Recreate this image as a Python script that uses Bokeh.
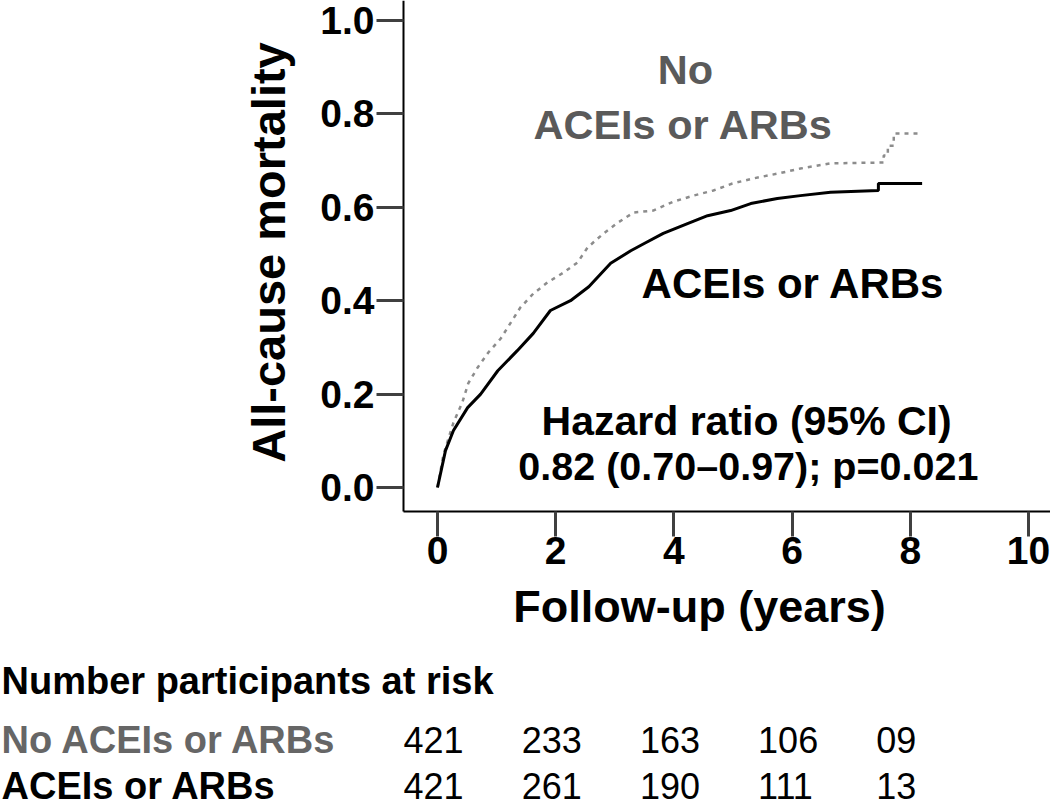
import math
from bokeh.plotting import figure
from bokeh.models import Range1d, FixedTicker, PrintfTickFormatter
from bokeh.core.properties import value
from bokeh.embed import file_html
from bokeh.resources import INLINE

# ---------------- data ----------------
ace_t = [0, 0.135, 0.27, 0.51, 0.73, 1.02, 1.35, 1.62, 1.91, 2.25, 2.56, 2.93,
         3.27, 3.49, 3.82, 4.23, 4.57, 4.96, 5.30, 5.75, 6.14, 6.65, 7.46, 7.46, 8.20]
ace_y = [0, 0.079, 0.122, 0.171, 0.20, 0.25, 0.293, 0.33, 0.379, 0.40, 0.43, 0.48,
         0.507, 0.522, 0.544, 0.565, 0.582, 0.593, 0.608, 0.619, 0.625, 0.632, 0.636, 0.651, 0.651]

noace_t = [0, 0.10, 0.27, 0.42, 0.52, 0.68, 0.86, 1.07, 1.24, 1.40, 1.62, 1.86, 2.13,
           2.37, 2.54, 2.81, 3.05, 3.32, 3.65, 3.99, 4.33, 4.67, 4.99, 5.35, 5.75, 6.14,
           6.65, 7.55, 7.55, 7.62, 7.62, 7.72, 7.72, 8.20]
noace_y = [0, 0.07, 0.139, 0.182, 0.223, 0.257, 0.289, 0.319, 0.353, 0.385, 0.415, 0.439,
           0.46, 0.482, 0.514, 0.544, 0.567, 0.589, 0.593, 0.612, 0.625, 0.636, 0.651, 0.662,
           0.672, 0.683, 0.694, 0.696, 0.711, 0.711, 0.732, 0.732, 0.758, 0.758]

risk_times = [0, 2, 4, 6, 8]
risk_no_ace = ["421", "233", "163", "106", "09"]
risk_ace = ["421", "261", "190", "111", "13"]
risk_heading = "Number participants at risk"
row_labels = ["No ACEIs or ARBs", "ACEIs or ARBs"]

x_ticks = [0, 2, 4, 6, 8, 10]
y_ticks = [0.0, 0.2, 0.4, 0.6, 0.8, 1.0]

FONT = "Liberation Sans"
GREY_TXT = "#5a5a5a"

# ---------------- layout constants (pixels) ----------------
W, H = 1050, 807
X0_PX, XSCALE = 437, 59.1      # x = 0 position, px per year
Y0_PX, YSCALE = 487, 467       # y = 0 position, px per unit
AXIS_LEFT_PX, AXIS_BOTTOM_PX = 403, 511

def dx(px):
    return (px - X0_PX) / XSCALE

def dy(px):
    return (Y0_PX - px) / YSCALE

p = figure(width=W, height=H,
           x_range=Range1d(dx(0), dx(W)), y_range=Range1d(dy(H), dy(0)),
           output_backend="svg", toolbar_location=None,
           min_border=0, min_border_left=0, min_border_right=0,
           min_border_top=0, min_border_bottom=0)
p.grid.visible = False
p.outline_line_color = None
p.background_fill_color = "white"
p.border_fill_color = "white"

xax, yax = p.xaxis[0], p.yaxis[0]
xax.fixed_location = dy(AXIS_BOTTOM_PX)
yax.fixed_location = dx(AXIS_LEFT_PX)
xax.bounds = (dx(AXIS_LEFT_PX), dx(W))
yax.bounds = (dy(AXIS_BOTTOM_PX), dy(0))

for ax in (xax, yax):
    ax.axis_line_width = 2
    ax.axis_line_color = "black"
    ax.major_tick_line_color = "#404040"
    ax.major_tick_line_width = 3
    ax.major_tick_in = 0
    ax.minor_tick_line_color = None
    ax.major_label_text_font = FONT
    ax.major_label_text_font_style = "bold"
    ax.major_label_text_font_size = "39px"
    ax.major_label_text_color = "black"

xax.major_tick_out = 25
yax.major_tick_out = 27
xax.ticker = FixedTicker(ticks=x_ticks)
yax.ticker = FixedTicker(ticks=y_ticks)
yax.formatter = PrintfTickFormatter(format="%.1f")
xax.major_label_standoff = 0
yax.major_label_standoff = 2

# curves
p.line(noace_t, noace_y, line_color="#8c8c8c", line_width=2.5, line_dash="4 5")
p.line(ace_t, ace_y, line_color="black", line_width=3)

def txt(x, y, text, color="black", size="41px", style="bold", align="center", angle=0.0,
        x_offset=0):
    p.text(x=x, y=y, text=text, text_font=value(FONT), text_font_style=style,
           text_font_size=size, text_color=color, text_align=align,
           text_baseline="middle", angle=angle, x_offset=x_offset)

# axis titles
txt([dx(268)], [dy(252)], ["All-cause mortality"], size="47px", angle=math.pi / 2)
txt([dx(699)], [dy(606)], ["Follow-up (years)"], size="45px")

# annotations
txt([4.196], [0.895], ["No"], GREY_TXT, "41.5px")
txt([4.16], [0.778], ["ACEIs or ARBs"], GREY_TXT, "41.5px")
txt([6.02], [0.437], ["ACEIs or ARBs"], "black", "42px")
txt([5.23], [0.143], ["Hazard ratio (95% CI)"], "black", "41px")
txt([5.26], [0.045], ["0.82 (0.70\u20130.97); p=0.021"], "black", "39.5px")

# risk table
row_y = [dy(680), dy(739), dy(785)]
lx = dx(1)
txt([lx], [row_y[0]], [risk_heading], "black", "38px", align="left")
txt([lx], [row_y[1]], [row_labels[0]], "#666666", "38px", align="left")
txt([lx], [row_y[2]], [row_labels[1]], "black", "38px", align="left")
txt(risk_times, [row_y[1]] * len(risk_times), risk_no_ace, "black", "36px",
    style="normal", align="left", x_offset=-34)
txt(risk_times, [row_y[2]] * len(risk_times), risk_ace, "black", "36px",
    style="normal", align="left", x_offset=-34)

open("out.html", "w").write(file_html(p, INLINE))
